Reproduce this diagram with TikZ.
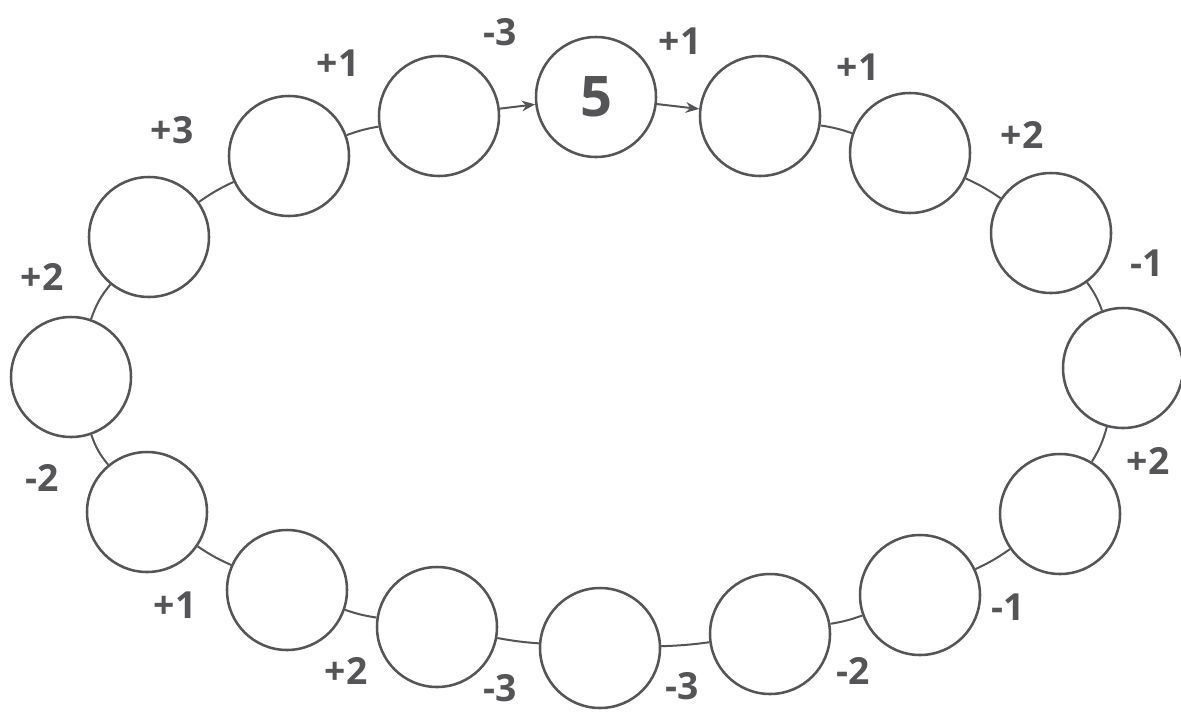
\documentclass[tikz,border=0pt]{standalone}
\usepackage{fontspec}
\setmainfont{Open Sans}
\usetikzlibrary{arrows.meta}
\definecolor{ink}{HTML}{555557}
\begin{document}
\begin{tikzpicture}[x=0.75pt,y=-0.75pt,
  ball/.style={circle,draw=ink,line width=1.9pt,minimum size=90pt,inner sep=0pt,fill=white,
    text=ink,font=\bfseries\fontsize{42}{46}\selectfont},
  link/.style={draw=ink,line width=1.5pt},
  arr/.style={link,-{Stealth[length=10pt,width=8pt]}},
  lab/.style={text=ink,font=\bfseries\fontsize{28}{32}\selectfont,inner sep=0pt}]
\useasboundingbox (0,0) rectangle (1181,711);
% circles
\node[ball] (J) at (439,116) {};
\node[ball] (P) at (596,97) {5};
\node[ball] (K) at (760,116) {};
\node[ball] (L) at (910,153) {};
\node[ball] (M) at (1051,233) {};
\node[ball] (N) at (1123,368) {};
\node[ball] (E) at (1060,514) {};
\node[ball] (D) at (920,595) {};
\node[ball] (C) at (770,634) {};
\node[ball] (B) at (600,648) {};
\node[ball] (A) at (437,627) {};
\node[ball] (G) at (287,590) {};
\node[ball] (F) at (147,512) {};
\node[ball] (O) at (71,377) {};
\node[ball] (H) at (149,237) {};
\node[ball] (I) at (289,156) {};
% connectors
\draw[arr] (J) -- (P);
\draw[arr] (P) -- (K);
\draw[link] (K) to[bend left=5] (L);
\draw[link] (L) to[bend left=5] (M);
\draw[link] (M) to[bend left=8] (N);
\draw[link] (N) to[bend left=8] (E);
\draw[link] (E) to[bend left=5] (D);
\draw[link] (D) to[bend left=5] (C);
\draw[link] (C) to[bend left=3] (B);
\draw[link] (B) to[bend left=3] (A);
\draw[link] (A) to[bend left=5] (G);
\draw[link] (G) to[bend left=5] (F);
\draw[link] (F) to[bend left=10] (O);
\draw[link] (O) to[bend left=10] (H);
\draw[link] (H) to[bend left=5] (I);
\draw[link] (I) to[bend left=5] (J);
% labels
\node[lab] (l1) at (500,32) {-3};
\node[lab] (l2) at (680,41) {+1};
\node[lab] (l3) at (858,67) {+1};
\node[lab] (l4) at (1022,135) {+2};
\node[lab] (l5) at (1147,263) {-1};
\node[lab] (l6) at (1148,461) {+2};
\node[lab] (l7) at (1008,607) {-1};
\node[lab] (l8) at (853,671) {-2};
\node[lab] (l9) at (682,686) {-3};
\node[lab] (l10) at (500,688) {-3};
\node[lab] (l11) at (346,671) {+2};
\node[lab] (l12) at (175,605) {+1};
\node[lab] (l13) at (42,478) {-2};
\node[lab] (l14) at (42,277) {+2};
\node[lab] (l15) at (172,130) {+3};
\node[lab] (l16) at (338,63) {+1};
\end{tikzpicture}
\end{document}
